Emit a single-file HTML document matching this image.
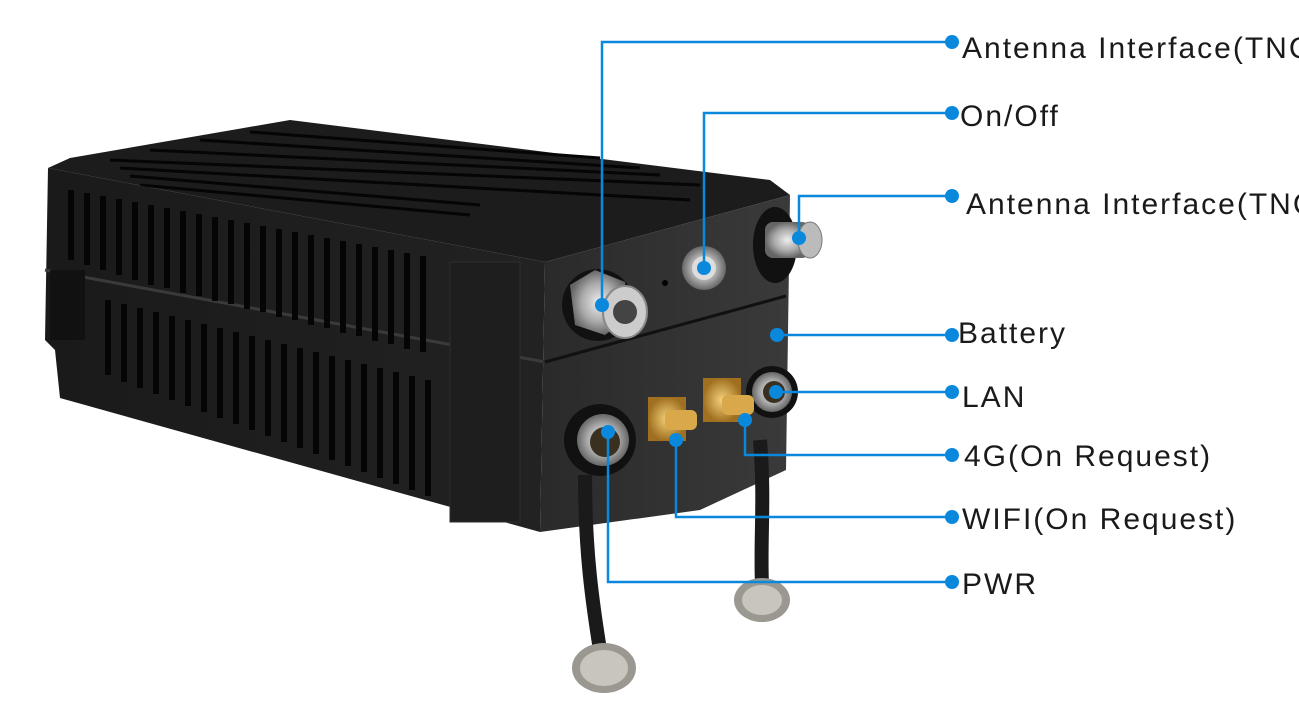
<!DOCTYPE html>
<html><head><meta charset="utf-8"><style>
html,body{margin:0;padding:0;background:#fff;}
body{width:1299px;height:709px;overflow:hidden;position:relative;}
svg{position:absolute;left:0;top:0;}
.t{font-family:"Liberation Sans",sans-serif;font-size:30px;fill:#1a1a1a;letter-spacing:2px;}
</style></head><body>
<svg width="1299" height="709" viewBox="0 0 1299 709" xmlns="http://www.w3.org/2000/svg">
<defs>
<linearGradient id="side" x1="0" y1="0" x2="1" y2="0"><stop offset="0" stop-color="#1a1a1a"/><stop offset="1" stop-color="#222"/></linearGradient>
<linearGradient id="front" x1="0" y1="0" x2="1" y2="0"><stop offset="0" stop-color="#2a2a2a"/><stop offset="1" stop-color="#3a3a3a"/></linearGradient>
<radialGradient id="silver"><stop offset="0" stop-color="#eee"/><stop offset="0.6" stop-color="#aaa"/><stop offset="1" stop-color="#666"/></radialGradient>
<radialGradient id="gold"><stop offset="0" stop-color="#f5d27a"/><stop offset="1" stop-color="#a07020"/></radialGradient>
</defs>
<polygon points="48,168 70,158 290,120 770,180 790,195 545,262" fill="#1c1c1c"/>
<g stroke="#050505" stroke-width="3">
<line x1="110" y1="160" x2="700" y2="185"/><line x1="120" y1="168" x2="690" y2="200"/>
<line x1="150" y1="150" x2="660" y2="175"/><line x1="200" y1="140" x2="640" y2="168"/>
<line x1="130" y1="176" x2="480" y2="205"/><line x1="250" y1="132" x2="600" y2="158"/>
<line x1="140" y1="185" x2="470" y2="215"/>
</g>
<polygon points="48,168 545,262 540,532 60,398 55,350 45,340" fill="url(#side)"/>
<line x1="45" y1="270" x2="545" y2="362" stroke="#3a3a3a" stroke-width="3"/>
<g fill="#050505">
<rect x="68" y="190" width="6" height="70"/><rect x="84" y="193" width="6" height="72"/><rect x="100" y="196" width="6" height="74"/><rect x="116" y="199" width="6" height="76"/><rect x="132" y="202" width="6" height="78"/><rect x="148" y="205" width="6" height="80"/><rect x="164" y="208" width="6" height="80"/><rect x="180" y="211" width="6" height="82"/><rect x="196" y="214" width="6" height="82"/><rect x="212" y="217" width="6" height="84"/><rect x="228" y="220" width="6" height="84"/><rect x="244" y="223" width="6" height="86"/><rect x="260" y="226" width="6" height="86"/><rect x="276" y="229" width="6" height="88"/><rect x="292" y="232" width="6" height="88"/><rect x="308" y="235" width="6" height="90"/><rect x="324" y="238" width="6" height="90"/><rect x="340" y="241" width="6" height="92"/><rect x="356" y="244" width="6" height="92"/><rect x="372" y="247" width="6" height="94"/><rect x="388" y="250" width="6" height="94"/><rect x="404" y="253" width="6" height="96"/><rect x="420" y="256" width="6" height="96"/>
<rect x="105" y="300" width="6" height="75"/><rect x="121" y="304" width="6" height="78"/><rect x="137" y="308" width="6" height="80"/><rect x="153" y="312" width="6" height="82"/><rect x="169" y="316" width="6" height="84"/><rect x="185" y="320" width="6" height="86"/><rect x="201" y="324" width="6" height="88"/><rect x="217" y="328" width="6" height="90"/><rect x="233" y="332" width="6" height="92"/><rect x="249" y="336" width="6" height="94"/><rect x="265" y="340" width="6" height="96"/><rect x="281" y="344" width="6" height="98"/><rect x="297" y="348" width="6" height="100"/><rect x="313" y="352" width="6" height="102"/><rect x="329" y="356" width="6" height="104"/><rect x="345" y="360" width="6" height="106"/><rect x="361" y="364" width="6" height="108"/><rect x="377" y="368" width="6" height="110"/><rect x="393" y="372" width="6" height="112"/><rect x="409" y="376" width="6" height="114"/><rect x="425" y="380" width="6" height="116"/>
</g>
<rect x="450" y="262" width="70" height="260" fill="#1e1e1e" stroke="#2e2e2e"/>
<rect x="50" y="270" width="35" height="70" fill="#111"/>
<polygon points="545,262 790,195 786,470 700,510 540,532" fill="url(#front)"/>
<line x1="545" y1="362" x2="786" y2="296" stroke="#111" stroke-width="3"/>
<circle cx="598" cy="305" r="36" fill="#111"/>
<polygon points="570,285 595,270 625,282 628,318 605,335 575,325" fill="url(#silver)"/>
<ellipse cx="625" cy="312" rx="22" ry="26" fill="#ccc" stroke="#888" stroke-width="2"/>
<circle cx="625" cy="312" r="12" fill="#444"/>
<circle cx="704" cy="268" r="22" fill="url(#silver)"/><circle cx="704" cy="268" r="12" fill="#ddd"/>
<circle cx="665" cy="283" r="3" fill="#000"/>
<ellipse cx="775" cy="245" rx="22" ry="38" fill="#111"/>
<rect x="765" y="222" width="45" height="36" rx="8" fill="url(#silver)"/>
<ellipse cx="810" cy="240" rx="12" ry="18" fill="#bbb" stroke="#777"/>
<circle cx="772" cy="392" r="26" fill="#111"/><circle cx="772" cy="392" r="20" fill="url(#silver)"/><circle cx="774" cy="392" r="11" fill="#3a3020"/>
<rect x="648" y="397" width="38" height="44" fill="url(#gold)"/><rect x="665" y="410" width="32" height="20" rx="6" fill="#d9a84a"/>
<rect x="703" y="378" width="38" height="44" fill="url(#gold)"/><rect x="722" y="395" width="32" height="20" rx="6" fill="#d9a84a"/>
<circle cx="600" cy="440" r="36" fill="#111"/><circle cx="603" cy="440" r="26" fill="url(#silver)"/><circle cx="605" cy="442" r="15" fill="#3a3020"/>
<path d="M585,475 C585,550 592,600 600,650" stroke="#1a1a1a" stroke-width="14" fill="none"/>
<path d="M760,440 C765,500 760,540 762,585" stroke="#1a1a1a" stroke-width="14" fill="none"/>
<ellipse cx="604" cy="668" rx="32" ry="25" fill="#9a9890"/><ellipse cx="604" cy="668" rx="24" ry="18" fill="#c8c5bc"/>
<ellipse cx="762" cy="600" rx="28" ry="22" fill="#9a9890"/><ellipse cx="762" cy="600" rx="20" ry="15" fill="#c8c5bc"/>
<g stroke="#0a88dc" stroke-width="2.5" fill="none">
<polyline points="602,305 602,42 952,42"/>
<polyline points="704,268 704,113 952,113"/>
<polyline points="799,238 799,196 952,196"/>
<polyline points="777,335 952,335"/>
<polyline points="776,392 952,392"/>
<polyline points="745,420 745,455 952,455"/>
<polyline points="676,440 676,517 952,517"/>
<polyline points="608,432 608,582 952,582"/>
</g>
<g fill="#0a88dc">
<circle cx="602" cy="305" r="7"/><circle cx="952" cy="42" r="7"/>
<circle cx="704" cy="268" r="7"/><circle cx="952" cy="113" r="7"/>
<circle cx="799" cy="238" r="7"/><circle cx="952" cy="196" r="7"/>
<circle cx="777" cy="335" r="7"/><circle cx="952" cy="335" r="7"/>
<circle cx="776" cy="392" r="7"/><circle cx="952" cy="392" r="7"/>
<circle cx="745" cy="420" r="7"/><circle cx="952" cy="455" r="7"/>
<circle cx="676" cy="440" r="7"/><circle cx="952" cy="517" r="7"/>
<circle cx="608" cy="432" r="7"/><circle cx="952" cy="582" r="7"/>
</g>
<text class="t" x="962" y="58">Antenna Interface(TNC)</text>
<text class="t" x="960" y="126">On/Off</text>
<text class="t" x="966" y="214">Antenna Interface(TNC)</text>
<text class="t" x="958" y="343">Battery</text>
<text class="t" x="962" y="407">LAN</text>
<text class="t" x="964" y="466">4G(On Request)</text>
<text class="t" x="962" y="529">WIFI(On Request)</text>
<text class="t" x="962" y="594">PWR</text>
</svg>
</body></html>
